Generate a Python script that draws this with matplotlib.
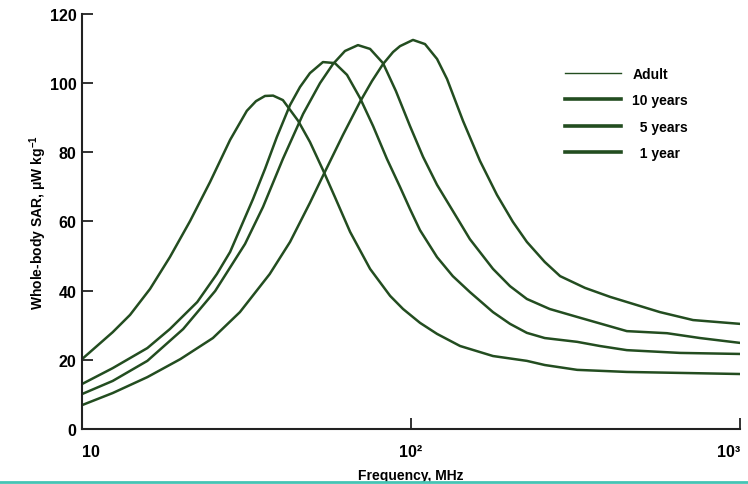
import numpy as np
import matplotlib
matplotlib.use('Agg')
import matplotlib.pyplot as plt
from matplotlib.lines import Line2D

plt.rcParams['font.family'] = ['Liberation Sans', 'DejaVu Sans']
plt.rcParams['font.weight'] = 'bold'
plt.rcParams['mathtext.fontset'] = 'custom'
plt.rcParams['mathtext.rm'] = 'Liberation Sans:bold'
plt.rcParams['mathtext.it'] = 'Liberation Sans:bold'
plt.rcParams['mathtext.bf'] = 'Liberation Sans:bold'

# frequency (MHz) / whole-body SAR values
f_1yr = [10, 12.4, 14.0, 16.1, 18.5, 21.3, 24.5, 28.2, 31.7, 33.8, 36.0, 38.1, 40.8, 45.4, 49.3, 54.0,
         58.7, 65.3, 75.1, 86.4, 94.6, 106.5, 120, 141, 177.5, 225, 255, 320, 453, 1000]
sar_1yr = [20.2, 28.0, 33.0, 40.5, 49.7, 60.1, 71.4, 83.6, 92.0, 94.8, 96.3, 96.4, 95.1, 89.1, 83.0, 74.9,
           67.1, 57.0, 46.3, 38.5, 34.7, 30.7, 27.5, 24.0, 21.1, 19.7, 18.5, 17.1, 16.5, 15.9]

f_5yr = [10, 12.4, 15.8, 18.5, 22.4, 25.7, 28.2, 33.1, 36.0, 39.1, 42.9, 46.0, 49.3, 54.0, 58.7, 63.9,
         70.0, 76.7, 84.5, 92.6, 99.3, 106.5, 120, 134, 151, 177.5, 200, 225, 255, 320, 375, 453, 657, 1000]
sar_5yr = [13.0, 17.6, 23.4, 28.9, 36.7, 44.8, 51.2, 66.5, 75.2, 84.4, 93.7, 98.9, 102.9, 106.1, 105.8, 102.4,
           95.7, 87.6, 78.1, 70.0, 63.6, 57.5, 49.7, 44.2, 39.6, 33.8, 30.4, 27.8, 26.3, 25.2, 24.0, 22.8, 22.0, 21.7]

f_10yr = [10, 12.4, 15.8, 20.3, 25.4, 31.3, 35.5, 40.8, 47.0, 52.9, 57.9, 63.0, 69.0, 75.1, 82.2, 90.0,
          99.3, 108.8, 120, 141, 151, 177.5, 200, 225, 264, 320, 453, 600, 756, 1000]
sar_10yr = [10.1, 13.9, 19.7, 28.9, 39.9, 53.5, 64.2, 78.1, 91.1, 100.0, 105.5, 109.3, 111.0, 109.9, 105.8, 97.7,
            87.6, 78.7, 70.6, 59.6, 54.9, 46.3, 41.3, 37.6, 34.7, 32.4, 28.3, 27.7, 26.3, 24.9]

f_adult = [10, 12.4, 15.8, 19.9, 25.0, 30.2, 37.2, 42.9, 49.3, 54.0, 62.1, 70.0, 76.1, 82.2, 88.2, 92.6,
           101.4, 110.3, 120, 128.7, 143.9, 162.1, 182.5, 204, 225, 255, 284, 338, 403, 571, 720, 1000]
sar_adult = [6.9, 10.4, 15.0, 20.2, 26.3, 33.8, 44.8, 54.1, 65.4, 73.2, 85.0, 94.6, 100.6, 105.5, 109.0, 110.7,
             112.5, 111.3, 107.0, 101.2, 89.1, 77.5, 67.7, 59.9, 54.1, 48.3, 44.2, 40.8, 38.2, 33.8, 31.5, 30.4]

labels = ['Adult', '10 years', '  5 years', '  1 year']
xticks = [10, 100, 1000]
xtick_labels = ['10', '10²', '10³']
yticks = [0, 20, 40, 60, 80, 100, 120]

green = '#234d20'

fig = plt.figure(figsize=(7.48, 4.85), dpi=100)
ax = fig.add_axes([0.1096, 0.1134, 0.8797, 0.8557])

for f, s in [(f_1yr, sar_1yr), (f_5yr, sar_5yr), (f_10yr, sar_10yr), (f_adult, sar_adult)]:
    ax.plot(f, s, color=green, lw=1.8, solid_capstyle='round', solid_joinstyle='round')

ax.set_xscale('log')
ax.set_xlim(10, 1000)
ax.set_ylim(0, 120)
ax.set_xticks(xticks)
ax.set_xticklabels(xtick_labels)
ax.xaxis.set_minor_locator(matplotlib.ticker.NullLocator())
ax.set_yticks(yticks)

tl = ax.get_xticklabels()
tl[0].set_ha('left')
tl[-1].set_ha('right')

ax.tick_params(direction='in', length=8, width=1.3, labelsize=11.5, color='#222222')
ax.tick_params(axis='x', pad=11)
ax.tick_params(axis='y', pad=4)

for side in ['top', 'right']:
    ax.spines[side].set_visible(False)
for side in ['left', 'bottom']:
    ax.spines[side].set_linewidth(1.5)
    ax.spines[side].set_color('#222222')

ax.set_xlabel('Frequency, MHz', fontsize=10, fontweight='bold', labelpad=6)
ax.set_ylabel(r'Whole-body SAR, μW kg$^{-1}$', fontsize=10, fontweight='bold')
ax.yaxis.set_label_coords(-0.05, 0.5)

handles = [Line2D([], [], color=green, lw=1.0),
           Line2D([], [], color=green, lw=2.6),
           Line2D([], [], color=green, lw=2.6),
           Line2D([], [], color=green, lw=2.6)]
ax.legend(handles, labels, loc='upper left', bbox_to_anchor=(0.734, 0.873), frameon=False,
          borderpad=0, borderaxespad=0, handlelength=4, handletextpad=0.85, labelspacing=0.9,
          prop={'size': 10, 'weight': 'bold'})

fig.add_artist(Line2D([0, 1], [0.004, 0.004], transform=fig.transFigure, color='#45c4b4', lw=2))

fig.savefig('out.png', dpi=100)
